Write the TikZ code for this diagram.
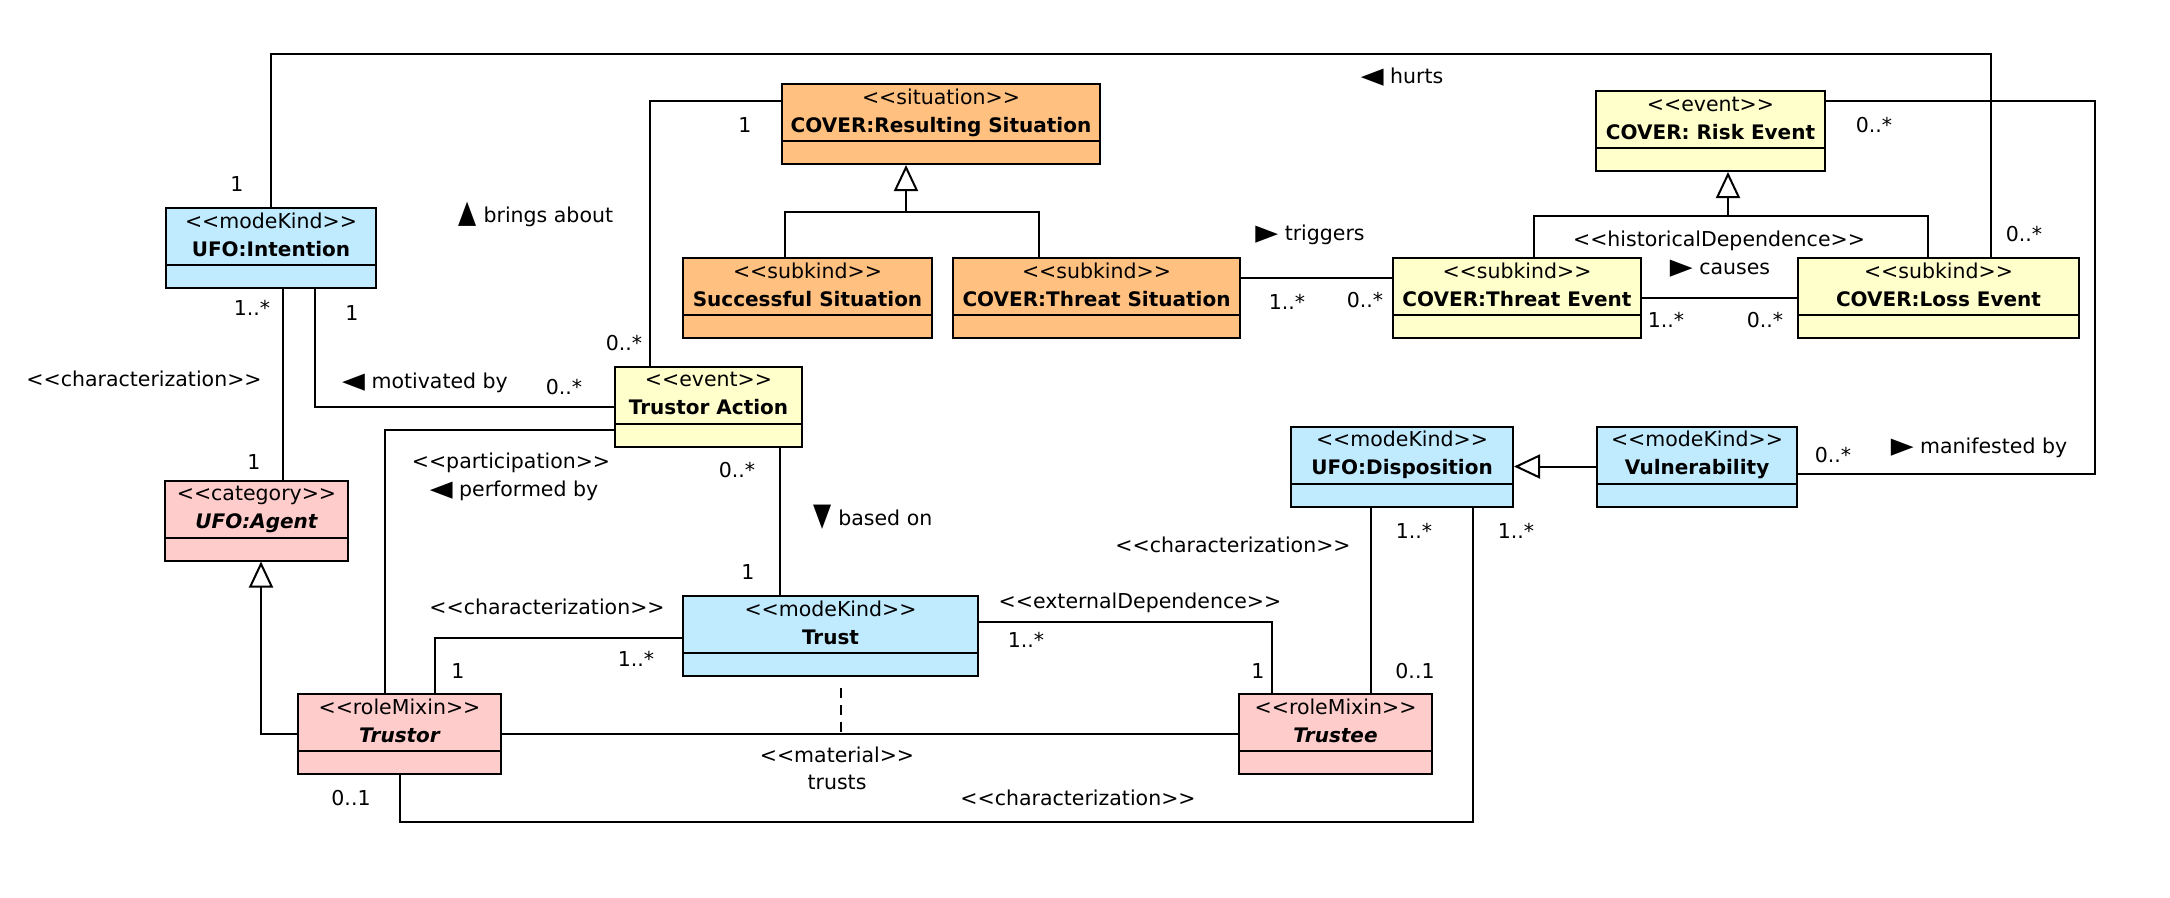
\documentclass[tikz,border=0pt]{standalone}
\usepackage{fontspec}
\usepackage{graphicx}
\setmainfont{DejaVu Sans}
\usetikzlibrary{arrows.meta}

\definecolor{orangeC}{RGB}{255,192,128}
\definecolor{jauneC}{RGB}{255,255,204}
\definecolor{bleuC}{RGB}{192,235,255}
\definecolor{roseC}{RGB}{255,204,204}

\tikzset{
  boite/.style={draw, line width=2pt, inner sep=0pt, minimum height=80pt},
  lien/.style={line width=2pt},
  gen/.style={line width=2pt, -{Triangle[open, length=26pt, width=24pt, line width=2pt]}},
  txt/.style={inner sep=0pt, font=\fontsize{20.5}{25}\selectfont},
  titre/.style={inner sep=0pt, font=\fontsize{20}{24}\selectfont\bfseries},
}

% stéréotype entre chevrons (le kern évite les guillemets)
\newcommand{\st}[1]{<\kern0pt<#1>\kern0pt>}
% petites flèches des noms d'associations
\newcommand{\flH}[1]{\scalebox{1.45}[1.1]{#1}}
\newcommand{\flV}[1]{\scalebox{1.15}[1.55]{#1}}

% une classe : nom, centre, largeur, couleur, stéréotype, nom affiché
\newcommand{\classe}[6]{%
  \node[boite, fill=#4, minimum width=#3] (#1) at (#2) {};
  \draw[line width=2pt] ([yshift=24pt]#1.south west) -- ([yshift=24pt]#1.south east);
  \node[txt, anchor=base] (#1-s) at ([yshift=-21pt]#1.north) {\st{#5}};
  \node[titre, anchor=base] (#1-n) at ([yshift=-49pt]#1.north) {#6};
}

\begin{document}
\begin{tikzpicture}[x=1pt, y=-1pt]
    \useasboundingbox (0,0) rectangle (2170,897);

    % Les classes
    \classe{intention}{271,248}{210pt}{bleuC}{modeKind}{UFO:Intention}
    \classe{resulting}{941,124}{318pt}{orangeC}{situation}{COVER:Resulting Situation}
    \classe{successful}{807.5,298}{249pt}{orangeC}{subkind}{Successful Situation}
    \classe{threatsit}{1096.5,298}{287pt}{orangeC}{subkind}{COVER:Threat Situation}
    \classe{riskevent}{1710.5,131}{229pt}{jauneC}{event}{COVER: Risk Event}
    \classe{threatevent}{1517,298}{248pt}{jauneC}{subkind}{COVER:Threat Event}
    \classe{lossevent}{1938.5,298}{281pt}{jauneC}{subkind}{COVER:Loss Event}
    \classe{action}{708.5,406.5}{187pt}{jauneC}{event}{Trustor Action}
    \classe{agent}{256.5,520.5}{183pt}{roseC}{category}{\itshape UFO:Agent}
    \classe{disposition}{1402,466.5}{222pt}{bleuC}{modeKind}{UFO:Disposition}
    \classe{vulnerability}{1697,466.5}{200pt}{bleuC}{modeKind}{Vulnerability}
    \classe{trust}{830.5,636}{295pt}{bleuC}{modeKind}{Trust}
    \classe{trustor}{399.5,734}{203pt}{roseC}{roleMixin}{\itshape Trustor}
    \classe{trustee}{1335.5,734}{193pt}{roseC}{roleMixin}{\itshape Trustee}

    % Généralisations
    \coordinate (g1) at (906,212);
    \draw[gen] ([xshift=-22.5pt]successful.north) |- (g1) -- ([xshift=-35pt]resulting.south);
    \draw[lien] ([xshift=-57.5pt]threatsit.north) |- (g1);
    \coordinate (g2) at (1728,216);
    \draw[gen] ([xshift=17pt]threatevent.north) |- (g2) -- ([xshift=17.5pt]riskevent.south);
    \draw[lien] ([xshift=-10.5pt]lossevent.north) |- (g2);
    \draw[gen] (vulnerability.west) -- (disposition.east);
    \draw[gen] (trustor.west) -| ([xshift=4.5pt]agent.south);

    % Associations
    \coordinate (hurtsc) at (1991,54);
    \draw[lien] (intention.north) |- (hurtsc) -- (hurtsc |- lossevent.north);
    \draw[lien] ([xshift=-58.5pt]action.north) |- ([yshift=23pt]resulting.west);
    \draw[lien] ([yshift=20pt]threatsit.east) -- ([yshift=20pt]threatevent.west);
    \draw[lien] (threatevent.east) -- (lossevent.west);
    \coordinate (manc) at (2095,101);
    \draw[lien] ([yshift=30pt]riskevent.east) -- (manc) |- ([yshift=-7.5pt]vulnerability.east);
    \draw[lien] ([xshift=-31pt]disposition.south) -- ([xshift=35.5pt]trustee.north);
    \draw[lien] ([xshift=71pt]disposition.south) -- ++(0,314) -| (trustor.south);
    \draw[lien] ([yshift=14pt]trust.east) -| ([xshift=-63.5pt]trustee.north);
    \draw[lien] ([yshift=-2pt]trust.west) -| ([xshift=35.5pt]trustor.north);
    \draw[lien] (trustor.east) -- (trustee.west);
    \coordinate (mat) at (841,734);
    \draw[lien, dash pattern=on 10pt off 7pt] ([xshift=10.5pt, yshift=-11pt]trust.south) -- (mat);
    \draw[lien] ([yshift=-23.5pt]action.west) -| ([xshift=-14.5pt]trustor.north);
    \draw[lien] (action.west) -| ([xshift=44pt]intention.south);
    \draw[lien] ([xshift=12pt]intention.south) -- ([xshift=26.5pt]agent.north);
    \draw[lien] ([xshift=71.5pt]action.south) -- ([xshift=-50.5pt]trust.north);

    % Multiplicités
    \foreach \x/\y/\t [count=\i] in {237/184/1, 2024/234/0..*, 745/125/1, 624/343/0..*,
        1287/302/1..*, 1365/300/0..*, 1666/320/1..*, 1765/320/0..*,
        1874/125/0..*, 1833/455/0..*, 1414/531/1..*, 1415/671/0..1,
        1516/531/1..*, 351/798/0..1, 1026/640/1..*, 1258/671/1,
        458/671/1, 636/659/1..*, 352/313/1, 564/387/0..*,
        252/308/1..*, 254/462/1, 737/470/0..*, 748/572/1}
        \node[txt] (mult\i) at (\x,\y) {\t};

    % Noms et stéréotypes des associations
    \node[txt] (hurts) at (1402,77) {\flH{◀} hurts};
    \node[txt] (brings) at (536,214) {\flV{▲} brings about};
    \node[txt] (triggers) at (1310,235) {\flH{▶} triggers};
    \node[txt] (histdep) at (1719,241) {\st{historicalDependence}};
    \node[txt] (causes) at (1720,269) {\flH{▶} causes};
    \node[txt] (manifested) at (1979,448) {\flH{▶} manifested by};
    \node[txt] (charac1) at (1233,545) {\st{characterization}};
    \node[txt] (charac2) at (1078,798) {\st{characterization}};
    \node[txt] (extdep) at (1140,603) {\st{externalDependence}};
    \node[txt] (charac3) at (547,607) {\st{characterization}};
    \node[txt] (material) at (837,755) {\st{material}};
    \node[txt] (trusts) at (837,782) {trusts};
    \node[txt] (particip) at (511,463) {\st{participation}};
    \node[txt] (performed) at (514,491) {\flH{◀} performed by};
    \node[txt] (motivated) at (425,383) {\flH{◀} motivated by};
    \node[txt] (charac4) at (144,379) {\st{characterization}};
    \node[txt] (basedon) at (873,517) {\flV{▼} based on};
\end{tikzpicture}
\end{document}
